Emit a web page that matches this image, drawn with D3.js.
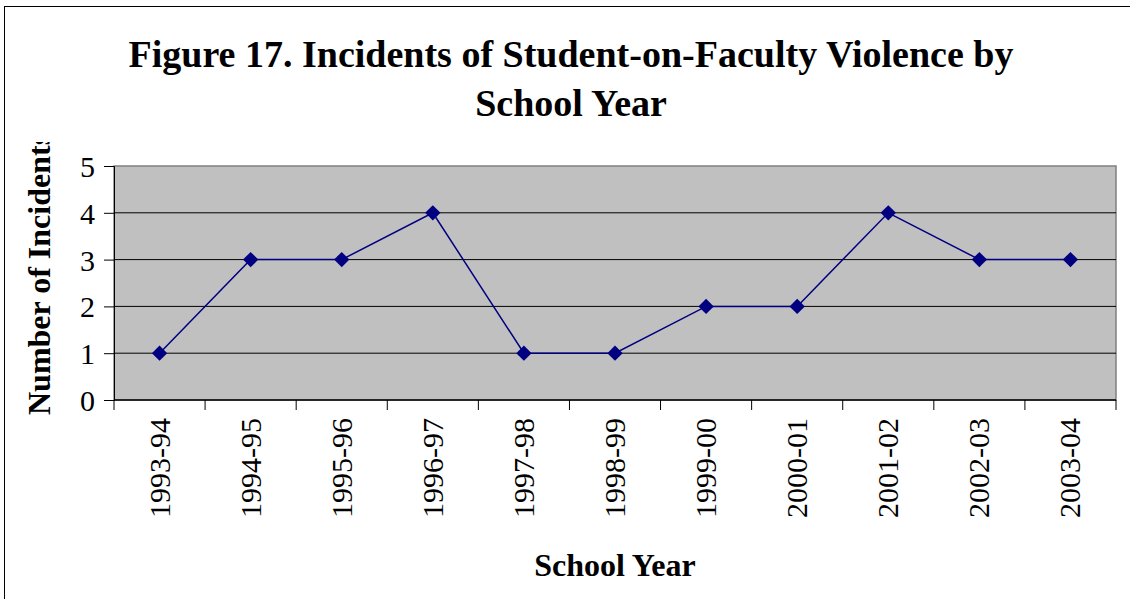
<!DOCTYPE html>
<html>
<head>
<meta charset="utf-8">
<script src="https://cdn.jsdelivr.net/npm/d3@7"></script>
<style>
  body { margin: 0; background: #fff; }
</style>
</head>
<body>
<div id="chart"></div>
<script>
var years = ["1993-94", "1994-95", "1995-96", "1996-97", "1997-98", "1998-99",
  "1999-00", "2000-01", "2001-02", "2002-03", "2003-04"];
var incidents = [1, 3, 3, 4, 1, 1, 2, 2, 4, 3, 3];
var yTicks = [0, 1, 2, 3, 4, 5];

var width = 1130, height = 599,
  plot = { left: 114, top: 166, right: 1116, bottom: 400 },
  serif = "Liberation Serif";

var svg = d3.select("#chart").append("svg")
  .attr("width", width)
  .attr("height", height)
  .attr("font-family", serif);

// outer frame
svg.append("rect")
  .attr("x", 4.5).attr("y", 6.5)
  .attr("width", 1140).attr("height", 620)
  .attr("fill", "#fff")
  .attr("stroke", "#000")
  .attr("stroke-width", 1);

var x = d3.scaleBand()
  .domain(years)
  .range([plot.left, plot.right]);

var y = d3.scaleLinear()
  .domain([0, 5])
  .range([plot.bottom, plot.top]);

// plot background
svg.append("rect")
  .attr("x", plot.left).attr("y", plot.top)
  .attr("width", plot.right - plot.left)
  .attr("height", plot.bottom - plot.top)
  .attr("fill", "#c0c0c0")
  .attr("stroke", "#808080")
  .attr("stroke-width", 1.5);

// gridlines
svg.append("g")
  .selectAll("line")
  .data(yTicks.filter(d => d > 0 && d < 5))
  .join("line")
  .attr("x1", plot.left).attr("x2", plot.right)
  .attr("y1", d => y(d)).attr("y2", d => y(d))
  .attr("stroke", "#000")
  .attr("stroke-width", 1);

// y axis
var yAxis = d3.axisLeft(y)
  .tickValues(yTicks)
  .tickSize(10)
  .tickPadding(9)
  .tickFormat(d3.format("d"));

svg.append("g")
  .attr("transform", "translate(" + plot.left + ",0)")
  .call(yAxis)
  .attr("font-family", serif)
  .attr("font-size", 30)
  .call(g => g.select(".domain").attr("stroke", "#000"))
  .call(g => g.selectAll(".tick text").attr("dy", "0.35em"));

// x axis: ticks at band edges
var edges = years.map(d => x(d)).concat([plot.right]);
svg.append("line")
  .attr("x1", plot.left).attr("x2", plot.right)
  .attr("y1", plot.bottom).attr("y2", plot.bottom)
  .attr("stroke", "#000").attr("stroke-width", 1.5);

svg.append("g")
  .selectAll("line")
  .data(edges)
  .join("line")
  .attr("x1", d => d).attr("x2", d => d)
  .attr("y1", plot.bottom).attr("y2", plot.bottom + 10)
  .attr("stroke", "#000");

svg.append("g")
  .attr("font-size", 30)
  .selectAll("text")
  .data(years)
  .join("text")
  .attr("transform", d => "translate(" + (x(d) + x.bandwidth() / 2 + 10) + "," + (plot.bottom + 18) + ") rotate(-90)")
  .attr("text-anchor", "end")
  .text(d => d);

// line + markers
var line = d3.line()
  .x((d, i) => x(years[i]) + x.bandwidth() / 2)
  .y(d => y(d));

svg.append("path")
  .datum(incidents)
  .attr("fill", "none")
  .attr("stroke", "#000080")
  .attr("stroke-width", 1.5)
  .attr("d", line);

svg.append("g")
  .selectAll("path")
  .data(incidents)
  .join("path")
  .attr("d", d3.symbol().type(d3.symbolDiamond2).size(150))
  .attr("transform", (d, i) => "translate(" + (x(years[i]) + x.bandwidth() / 2) + "," + y(d) + ")")
  .attr("fill", "#000080");

// title
var title = svg.append("text")
  .attr("text-anchor", "middle")
  .attr("font-size", 38)
  .attr("font-weight", "bold");
title.append("tspan").attr("x", 571).attr("y", 67).text("Figure 17. Incidents of Student-on-Faculty Violence by");
title.append("tspan").attr("x", 571).attr("y", 116).text("School Year");

// axis titles
svg.append("text")
  .attr("x", 615).attr("y", 576)
  .attr("text-anchor", "middle")
  .attr("font-size", 32)
  .attr("font-weight", "bold")
  .text("School Year");

// y title is cut off at the top, as in the original
svg.append("clipPath").attr("id", "ylab-clip")
  .append("rect").attr("x", 0).attr("y", 142).attr("width", 100).attr("height", 320);

svg.append("g")
  .attr("clip-path", "url(#ylab-clip)")
  .append("text")
  .attr("transform", "translate(50,415) rotate(-90)")
  .attr("text-anchor", "start")
  .attr("font-size", 32)
  .attr("font-weight", "bold")
  .text("Number of Incidents");
</script>
</body>
</html>
